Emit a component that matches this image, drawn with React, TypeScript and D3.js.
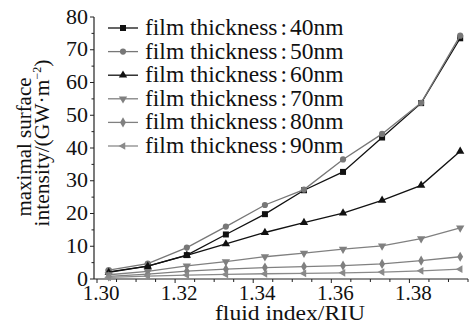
import React from "react";
import * as d3 from "d3";

const fluidIndex = [1.303, 1.313, 1.323, 1.333, 1.343, 1.353, 1.363, 1.373, 1.383, 1.393];
const t40 = [2.2, 3.9, 7.3, 13.6, 19.8, 27.1, 32.7, 43.2, 53.7, 73.5];
const t50 = [2.7, 4.7, 9.6, 16.0, 22.6, 27.3, 36.5, 44.3, 53.8, 74.3];
const t60 = [2.0, 3.9, 7.2, 10.7, 14.2, 17.2, 20.1, 24.0, 28.6, 39.0];
const t70 = [1.3, 2.3, 4.0, 5.3, 6.8, 7.9, 9.1, 10.1, 12.3, 15.6];
const t80 = [0.8, 1.5, 2.4, 3.0, 3.5, 3.8, 4.1, 4.6, 5.6, 6.8];
const t90 = [0.5, 0.9, 1.2, 1.4, 1.6, 1.7, 1.9, 2.1, 2.5, 3.0];
const seriesNames = ["40nm", "50nm", "60nm", "70nm", "80nm", "90nm"];
const xTicks = [1.30, 1.32, 1.34, 1.36, 1.38];
const yTicks = [0, 10, 20, 30, 40, 50, 60, 70, 80];

const FONT = "'Liberation Serif', 'Times New Roman', serif";

export default function App() {
  const W = 469, H = 325;
  const x = d3.scaleLinear().domain([1.30, 1.395]).range([97, 468]);
  const y = d3.scaleLinear().domain([0, 80]).range([279, 17]);
  const axisX0 = 94;

  const series = [
    { name: seriesNames[0], data: t40, color: "#111", sym: d3.symbolSquare, size: 36, rot: 0 },
    { name: seriesNames[1], data: t50, color: "#777", sym: d3.symbolCircle, size: 30, rot: 0 },
    { name: seriesNames[2], data: t60, color: "#111", sym: d3.symbolTriangle, size: 30, rot: 0 },
    { name: seriesNames[3], data: t70, color: "#808080", sym: d3.symbolTriangle, size: 30, rot: 180 },
    { name: seriesNames[4], data: t80, color: "#808080", sym: d3.symbolDiamond, size: 30, rot: 0 },
    { name: seriesNames[5], data: t90, color: "#8a8a8a", sym: d3.symbolTriangle, size: 26, rot: -90 },
  ];

  const line = d3.line<number>().x((_, i) => x(fluidIndex[i])).y((d) => y(d));

  const minorX = d3.range(1.30, 1.3951, 0.005);
  const minorY = d3.range(0, 80.01, 5);

  const legY0 = 28, legStep = 23.6;

  return (
    <svg width={W} height={H} style={{ position: "absolute", left: 0, top: 0, background: "#fff" }} fontFamily={FONT}>
      <line x1={axisX0} x2={axisX0} y1={y(80)} y2={y(0)} stroke="#222" strokeWidth={1.2} />
      <line x1={axisX0} x2={468} y1={y(0)} y2={y(0)} stroke="#222" strokeWidth={1.2} />
      {minorY.map((v, i) => (
        <line key={"my" + i} x1={axisX0 - (v % 10 === 0 ? 4 : 2.5)} x2={axisX0} y1={y(v)} y2={y(v)} stroke="#222" strokeWidth={1} />
      ))}
      {minorX.map((v, i) => (
        <line key={"mx" + i} x1={x(v)} x2={x(v)} y1={y(0)} y2={y(0) + (i % 4 === 0 ? 4 : 3)} stroke="#222" strokeWidth={1} />
      ))}
      {yTicks.map((v) => (
        <text key={"yt" + v} x={88} y={y(v)} dy="0.3em" textAnchor="end" fontSize={22} fill="#111">{v}</text>
      ))}
      {xTicks.map((v) => (
        <text key={"xt" + v} x={x(v) + 4} y={300} textAnchor="middle" fontSize={21} fill="#111">{v.toFixed(2)}</text>
      ))}
      <text x={215} y={320} fontSize={21.5} fill="#111" textLength={150} lengthAdjust="spacingAndGlyphs">fluid index/RIU</text>
      <g transform="translate(31,147) rotate(-90)">
        <text x={-69.5} y={0} fontSize={21} fill="#111" textLength={139} lengthAdjust="spacingAndGlyphs">maximal surface</text>
      </g>
      <g transform="translate(49,143) rotate(-90)">
        <text x={0} y={0} textAnchor="middle" fontSize={21.5} fill="#111">
          intensity/(GW·m<tspan fontSize={12} dy={-8}>−2</tspan><tspan dy={8}>)</tspan>
        </text>
      </g>

      {series.map((s) => (
        <g key={s.name}>
          <path d={line(s.data) || ""} fill="none" stroke={s.color} strokeWidth={1.3} />
          {s.data.map((v, i) => (
            <path key={i} d={d3.symbol().type(s.sym).size(s.size)() || ""}
              transform={`translate(${x(fluidIndex[i])},${y(v)}) rotate(${s.rot})`} fill={s.color} />
          ))}
        </g>
      ))}

      {series.map((s, k) => {
        const ly = legY0 + k * legStep;
        return (
          <g key={"lg" + s.name}>
            <line x1={108} x2={138} y1={ly} y2={ly} stroke={s.color} strokeWidth={1.3} />
            <path d={d3.symbol().type(s.sym).size(s.size)() || ""} transform={`translate(123,${ly}) rotate(${s.rot})`} fill={s.color} />
            <text x={145} y={ly} dy="0.3em" fontSize={23.5} fill="#111">
              film thickness<tspan dx={3}>:</tspan><tspan dx={3}>{s.name}</tspan>
            </text>
          </g>
        );
      })}
    </svg>
  );
}
